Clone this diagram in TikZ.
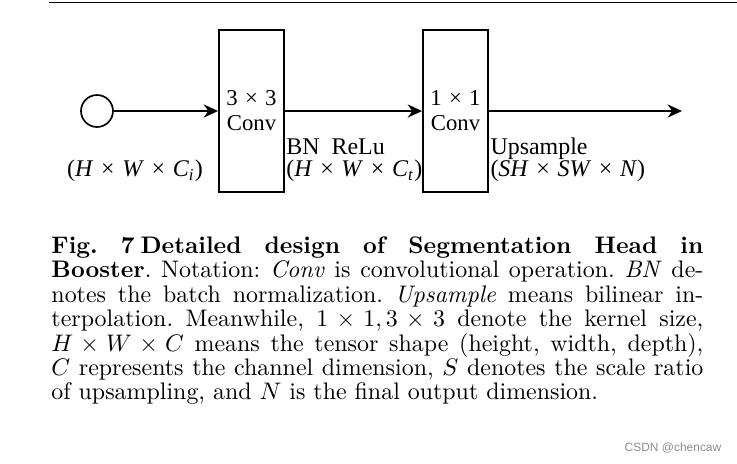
\documentclass[tikz,border=0pt]{standalone}
\usepackage{fontspec}
\usepackage{amsmath}
\usetikzlibrary{positioning, arrows.meta}
\newfontfamily\figfont{Liberation Serif}
\newfontfamily\markfont{Liberation Sans}
\newcommand{\tms}{\hspace{0.32em}×\hspace{0.32em}}
\colorlet{rule}{black}
\colorlet{wgray}{black!45}
\tikzset{
  block/.style   ={draw=rule, line width=0.8pt, inner sep=0pt,
                   minimum width=0.955cm, minimum height=2.38cm,
                   align=center, font=\figfont\fontsize{9.5}{9.5}\selectfont},
  port/.style    ={draw=rule, circle, line width=0.7pt,
                   minimum size=0.47cm, inner sep=0pt},
  flow/.style    ={-{Stealth[length=6pt, width=5.5pt]}, rule, line width=0.8pt},
  dimlbl/.style  ={inner sep=0pt, align=left,
                   font=\figfont\fontsize{10}{9.6}\selectfont},
  capt/.style    ={inner sep=0pt, text width=272.5pt, align=justify,
                   font=\fontsize{10}{10.24}\selectfont\frenchspacing},
  wmark/.style   ={inner sep=0pt, text=wgray, font=\markfont\fontsize{5}{6}\selectfont},
}

\begin{document}
\begin{tikzpicture}

\useasboundingbox (0,0) rectangle (10.827,-6.802);
\draw[rule, line width=0.4pt] (0.72,-0.03) -- (10.827,-0.03);

% head
\node[port] (IN) at (1.425,-1.631) {};
\node[block] (C3) at (3.695,-1.631) {3\tms 3\\[1pt]Conv};
\node[block] (C1) at (6.692,-1.631) {1\tms 1\\[1pt]Conv};
\coordinate (OUT) at (10.019,-1.631);
\draw[flow] (IN) -- (C3);
\draw[flow] (C3) -- (C1);
\draw[flow] (C1) -- (OUT);

% tensor shapes
\node[dimlbl, anchor=base] (SIN) at (1.983,-2.600)
  {(\textit{H}\tms\textit{W}\tms\textit{C}\textsubscript{\textit{i}})};
\node[dimlbl, anchor=base west] (SMID) at (4.200,-2.600)
  {BN\ \ ReLu\\(\textit{H}\tms\textit{W}\tms\textit{C}\textsubscript{\textit{t}})};
\node[dimlbl, anchor=base west] (SOUT) at (7.199,-2.600)
  {Upsample\\(\textit{SH}\tms\textit{SW}\tms\textit{N})};

% caption
\node[capt, anchor=base west] (CAP) at (0.749,-3.717)
  {\textbf{Fig.\ 7\hspace{2.5pt}Detailed design of Segmentation Head in}\linebreak
   \textbf{Booster}. Notation: \textit{Conv} is convolutional operation. \textit{BN} de-\linebreak
   notes the batch normalization. \textit{Upsample} means bilinear in-\linebreak
   terpolation. Meanwhile, $1\times1, 3\times3$ denote the kernel size,\linebreak
   $H\times W\times C$ means the tensor shape (height, width, depth),\linebreak
   $C$ represents the channel dimension, $S$ denotes the scale ratio\linebreak
   of upsampling, and $N$ is the final output dimension.};

\node[wmark] (WM) at (9.887,-6.581) {CSDN @chencaw};

\end{tikzpicture}
\end{document}
